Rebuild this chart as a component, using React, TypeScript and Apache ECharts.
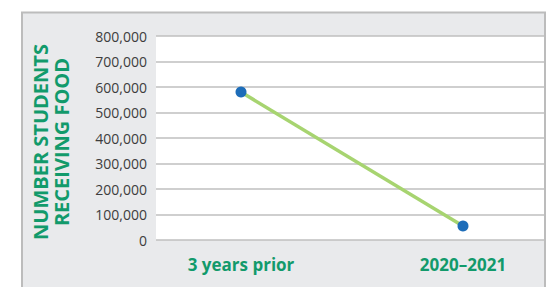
import React, { useEffect, useRef } from "react";
import * as echarts from "echarts";

const categories = ["3 years prior", "2020–2021"];
const studentsReceivingFood = [580000, 55000];
const yTicks = [0, 100000, 200000, 300000, 400000, 500000, 600000, 700000, 800000];
const axisTitle = "NUMBER STUDENTS\nRECEIVING FOOD";

const GREEN = "#129a6b";

export default function App() {
  const ref = useRef<HTMLDivElement>(null);

  useEffect(() => {
    if (!ref.current) return;
    const chart = echarts.init(ref.current, null, { renderer: "svg" });
    chart.setOption({
      animation: false,
      backgroundColor: "#ffffff",
      graphic: [
        {
          type: "rect",
          z: -10,
          silent: true,
          shape: { x: 22, y: 12.5, width: 523, height: 300 },
          style: { fill: "#e9eaec", stroke: "#bcbcbc", lineWidth: 2 },
        },
        {
          type: "text",
          x: 51,
          y: 142,
          rotation: Math.PI / 2,
          style: {
            text: axisTitle,
            fill: GREEN,
            font: "bold 20px 'Open Sans', sans-serif",
            lineHeight: 21.5,
            align: "center",
            verticalAlign: "middle",
          },
        },
      ],
      grid: {
        left: 156,
        right: 2,
        top: 36,
        bottom: 47,
        show: true,
        backgroundColor: "#ffffff",
        borderWidth: 0,
      },
      xAxis: {
        type: "value",
        min: -0.383,
        max: 1.365,
        axisLine: { show: false },
        axisTick: { show: false },
        splitLine: { show: false },
        axisLabel: {
          customValues: categories.map((_, i) => i),
          formatter: (v: number) => categories[Math.round(v)] ?? "",
          color: GREEN,
          fontFamily: "'Open Sans', sans-serif",
          fontWeight: "bold",
          fontSize: 17,
          margin: 16,
        },
      },
      yAxis: {
        type: "value",
        min: yTicks[0],
        max: yTicks[yTicks.length - 1],
        interval: yTicks[1] - yTicks[0],
        axisLine: { show: false },
        axisTick: { show: false },
        splitLine: { lineStyle: { color: "#bfbfbf", width: 1.5 } },
        axisLabel: {
          formatter: (v: number) => v.toLocaleString("en-US"),
          color: "#3d3d3d",
          fontFamily: "'Open Sans', sans-serif",
          fontSize: 14,
          margin: 9,
        },
      },
      series: [
        {
          type: "line",
          data: categories.map((_, i) => [i, studentsReceivingFood[i]]),
          lineStyle: { color: "#a7d470", width: 3.5 },
          symbol: "circle",
          symbolSize: 11,
          itemStyle: { color: "#1d6db9" },
          z: 5,
        },
      ],
    });
    return () => chart.dispose();
  }, []);

  return (
    <div
      ref={ref}
      style={{ position: "fixed", left: 0, top: 0, width: 546, height: 287 }}
    />
  );
}
